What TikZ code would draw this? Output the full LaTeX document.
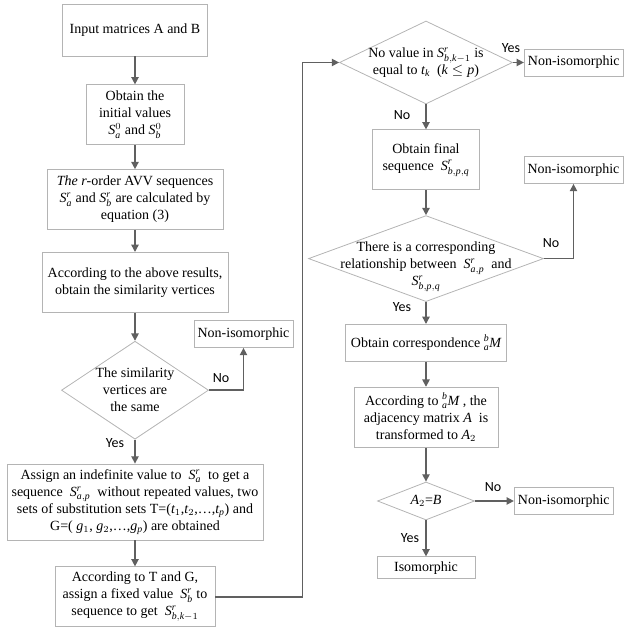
\documentclass[tikz,border=0pt]{standalone}
\usepackage{amsmath}
\usepackage{fontspec}
\setmainfont{Liberation Serif}
\newfontfamily\labelfont{Carlito}
\edef\settletters{\noexpand\DeclareSymbolFont{tletters}{TU}{\rmdefault}{m}{it}%
  \noexpand\DeclareSymbolFont{tdigits}{TU}{\rmdefault}{m}{n}}
\settletters
\DeclareMathSymbol{S}{\mathalpha}{tletters}{`S}
\DeclareMathSymbol{M}{\mathalpha}{tletters}{`M}
\DeclareMathSymbol{A}{\mathalpha}{tletters}{`A}
\DeclareMathSymbol{B}{\mathalpha}{tletters}{`B}
\DeclareMathSymbol{a}{\mathalpha}{tletters}{`a}
\DeclareMathSymbol{b}{\mathalpha}{tletters}{`b}
\DeclareMathSymbol{r}{\mathalpha}{tletters}{`r}
\DeclareMathSymbol{k}{\mathalpha}{tletters}{`k}
\DeclareMathSymbol{p}{\mathalpha}{tletters}{`p}
\DeclareMathSymbol{q}{\mathalpha}{tletters}{`q}
\DeclareMathSymbol{t}{\mathalpha}{tletters}{`t}
\DeclareMathSymbol{g}{\mathalpha}{tletters}{`g}
\DeclareMathSymbol{0}{\mathalpha}{tdigits}{`0}
\DeclareMathSymbol{1}{\mathalpha}{tdigits}{`1}
\DeclareMathSymbol{2}{\mathalpha}{tdigits}{`2}
\usetikzlibrary{arrows.meta,positioning,shapes.geometric}
\definecolor{boxgray}{HTML}{B4B4B4}
\definecolor{arrowgray}{HTML}{606060}
\tikzset{
  stepbox/.style={draw=boxgray, line width=0.6pt, align=center, inner sep=2pt},
  decision/.style={draw=boxgray, line width=0.6pt, diamond, inner sep=0pt},
  dtext/.style={align=center, inner sep=0pt},
  endbox/.style={draw=boxgray, line width=0.6pt, align=center, inner sep=2pt, minimum width=74.25pt, minimum height=20.25pt},
  arrow/.style={-{Triangle[length=5.5pt,width=5.5pt]}, line width=1.1pt, draw=arrowgray},
  lbl/.style={font=\labelfont\fontsize{10.5}{12}\selectfont, inner sep=0pt}
}
\begin{document}
\begin{tikzpicture}[x=0.75pt, y=-0.75pt, font=\fontsize{10.5}{12.75}\selectfont]
  \useasboundingbox (0,0) rectangle (633,627);
  \node[stepbox, minimum width=108.75pt, minimum height=39pt] (input) at (135,30) {Input matrices A and B};
  \node[stepbox, below=21pt of input, minimum width=73.5pt, minimum height=45pt] (init) {Obtain the\\initial values\\$S_a^0$ and $S_b^0$};
  \node[stepbox, below=18pt of init, minimum width=132pt, minimum height=45pt] (avv) {\textit{The} $r$-order AVV sequences\\$S_a^r$ and $S_b^r$ are calculated by\\equation (3)};
  \node[stepbox, below=16.5pt of avv, minimum width=139.5pt, minimum height=45pt] (simv) {According to the above results,\\obtain the similarity vertices};
  \node[decision, below=21pt of simv, minimum width=110.25pt, minimum height=73.5pt] (sim) {};
  \node[dtext] (simt) at (sim) {The similarity\\vertices are\\the same};
  \node[stepbox, below=18pt of sim, minimum width=192pt, minimum height=57pt] (assign) {Assign an indefinite value to \ $S_a^r$ \ to get a\\sequence \ $S_{a,p}^r$ \ without repeated values, two\\sets of substitution sets T=($t_1$,$t_2$,\ldots,$t_p$) and\\G=( $g_1$, $g_2$,\ldots,$g_p$) are obtained};
  \node[stepbox, below=19.5pt of assign, minimum width=120pt, minimum height=45pt] (fixed) {According to T and G,\\assign a fixed value \ $S_b^r$ to\\sequence to get \ $S_{b,k-1}^r$};
  \node[endbox] (noniso1) at (243.5,334) {Non-isomorphic};

  \node[decision, minimum width=129.75pt, minimum height=62.25pt] (novalue) at (426,62.5) {};
  \node[dtext] (novaluet) at (novalue) {No value in $S_{b,k-1}^r$ is\\equal to $t_k$ \ ($k\leq p$)};
  \node[endbox, right=8.25pt of novalue] (noniso2) {Non-isomorphic};
  \node[stepbox, below=18.75pt of novalue, minimum width=80.25pt, minimum height=45pt] (final) {Obtain final\\sequence \ $S_{b,p,q}^r$};
  \node[decision, below=18.75pt of final, minimum width=176.25pt, minimum height=64.5pt] (corr) {};
  \node[dtext, yshift=-6pt] (corrt) at (corr) {There is a corresponding\\relationship between \ $S_{a,p}^r$ \ and\\$S_{b,p,q}^r$};
  \node[endbox] (noniso3) at (573.5,170) {Non-isomorphic};
  \node[stepbox, below=16.5pt of corr, minimum width=120.75pt, minimum height=27.75pt] (obtainm) {Obtain correspondence ${}_a^bM$};
  \node[stepbox, below=18.75pt of obtainm, minimum width=108pt, minimum height=45pt] (transf) {According to ${}_a^bM$ , the\\adjacency matrix $A$ \ is\\transformed to $A_2$};
  \node[decision, below=25.5pt of transf, minimum width=72.75pt, minimum height=28.5pt] (equal) {};
  \node[dtext] (equalt) at (equal) {$A_2$=$B$};
  \node[endbox, right=29.25pt of equal] (noniso4) {Non-isomorphic};
  \node[stepbox, below=27pt of equal, minimum width=73.5pt, minimum height=16.5pt] (iso) {Isomorphic};

  \node[lbl] (no1) at (221,378) {No};
  \node[lbl] (yes1) at (115,443) {Yes};
  \node[lbl] (yes2) at (511,48) {Yes};
  \node[lbl] (no2) at (402,115) {No};
  \node[lbl] (no3) at (551,243) {No};
  \node[lbl] (yes3) at (402,307) {Yes};
  \node[lbl] (no4) at (493,487) {No};
  \node[lbl] (yes4) at (410,538) {Yes};

  \draw[arrow] (input) -- (init);
  \draw[arrow] (init) -- (avv);
  \draw[arrow] (avv) -- (simv);
  \draw[arrow] (simv) -- (sim);
  \draw[arrow] (sim) -- (assign);
  \draw[arrow] (assign) -- (fixed);
  \draw[arrow] (sim.east) -| (noniso1.south);
  \draw[arrow] (fixed.east) -- ++(87,0) |- (novalue.west);
  \draw[arrow] (novalue) -- (noniso2);
  \draw[arrow] (novalue) -- (final);
  \draw[arrow] (final) -- (corr);
  \draw[arrow] (corr.east) -| (noniso3.south);
  \draw[arrow] (corr) -- (obtainm);
  \draw[arrow] (obtainm) -- (transf);
  \draw[arrow] (transf) -- (equal);
  \draw[arrow] (equal) -- (noniso4);
  \draw[arrow] (equal) -- (iso);
\end{tikzpicture}
\end{document}
